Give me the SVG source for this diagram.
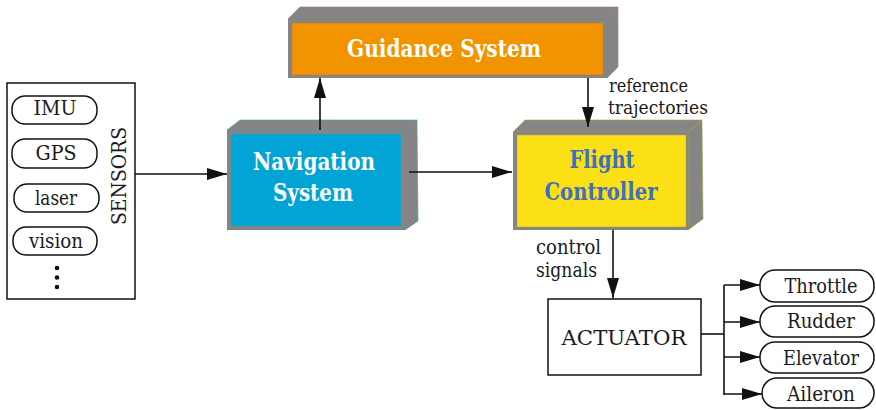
<svg xmlns="http://www.w3.org/2000/svg" width="876" height="410" viewBox="0 0 876 410">
<defs>
<marker id="ah" markerUnits="userSpaceOnUse" markerWidth="20" markerHeight="12" refX="20" refY="6" orient="auto">
<path d="M0,0 L20,6 L0,12 z" fill="#111"/>
</marker>
<style>
.t{font-family:"DejaVu Serif","Liberation Serif",serif;font-size:20px;fill:#1a1a1a}
.b{font-family:"DejaVu Serif","Liberation Serif",serif;font-size:24px;font-weight:bold}
.pill{fill:#fff;stroke:#111;stroke-width:1.5}
.box{fill:#fff;stroke:#111;stroke-width:1.5}
.grey{fill:#858585}
.ln{fill:none;stroke:#111;stroke-width:1.6}
.arr{fill:none;stroke:#111;stroke-width:1.6;marker-end:url(#ah)}
</style>
</defs>
<rect width="876" height="410" fill="#fff"/>

<g id="sensors">
<rect class="box" x="7" y="83" width="128" height="216"/>
<rect class="pill" x="12" y="96" width="85" height="28" rx="13"/>
<text class="t" x="55" y="115" text-anchor="middle" textLength="43" lengthAdjust="spacingAndGlyphs">IMU</text>
<rect class="pill" x="12" y="139" width="85" height="29" rx="13"/>
<text class="t" x="56" y="160" text-anchor="middle" textLength="41" lengthAdjust="spacingAndGlyphs">GPS</text>
<rect class="pill" x="14" y="184" width="85" height="28" rx="13"/>
<text class="t" x="56" y="205" text-anchor="middle" textLength="42" lengthAdjust="spacingAndGlyphs">laser</text>
<rect class="pill" x="13" y="227" width="84" height="28" rx="13"/>
<text class="t" x="56" y="248" text-anchor="middle" textLength="54" lengthAdjust="spacingAndGlyphs">vision</text>
<circle cx="57" cy="268" r="2.3" fill="#111"/>
<circle cx="57" cy="277.5" r="2.3" fill="#111"/>
<circle cx="57" cy="287" r="2.3" fill="#111"/>
<text class="t" transform="translate(126,176) rotate(-90)" text-anchor="middle" textLength="98" lengthAdjust="spacingAndGlyphs">SENSORS</text>
</g>

<g id="guidance">
<polygon class="grey" points="288,19 300,7 618,7 607,19" stroke="#b07070" stroke-width="0.6"/>
<polygon class="grey" points="607,19 618,7 618,67 607,78" stroke="#b07070" stroke-width="0.6"/>
<rect class="grey" x="288" y="19" width="319" height="59"/>
<rect x="292" y="23" width="311" height="52" fill="#f29400" stroke="#c07040" stroke-width="0.5"/>
<text class="b" x="444" y="57" text-anchor="middle" fill="#fff" textLength="194" lengthAdjust="spacingAndGlyphs">Guidance System</text>
</g>

<g id="navigation">
<polygon class="grey" points="227,130 240,120 417,120 405,130" stroke="#40a0a8" stroke-width="0.6"/>
<polygon class="grey" points="405,130 417,120 418,221 405,230" stroke="#40a0a8" stroke-width="0.6"/>
<rect class="grey" x="227" y="130" width="178" height="100"/>
<rect x="231" y="134" width="170" height="92" fill="#02a4d6" stroke="#40a0a8" stroke-width="0.5"/>
<text class="b" x="314" y="170" text-anchor="middle" fill="#fff" textLength="122" lengthAdjust="spacingAndGlyphs">Navigation</text>
<text class="b" x="313" y="201" text-anchor="middle" fill="#fff" textLength="80" lengthAdjust="spacingAndGlyphs">System</text>
</g>

<g id="flight">
<polygon class="grey" points="513,132 525,120 702,120 688,132" stroke="#a8a040" stroke-width="0.6"/>
<polygon class="grey" points="688,132 702,120 703,219 688,230" stroke="#a8a040" stroke-width="0.6"/>
<rect class="grey" x="513" y="132" width="175" height="98"/>
<rect x="517" y="135" width="169" height="92" fill="#fce016" stroke="#a8a040" stroke-width="0.5"/>
<text class="b" x="602" y="168" text-anchor="middle" fill="#3f6fbf" textLength="65" lengthAdjust="spacingAndGlyphs">Flight</text>
<text class="b" x="601" y="200" text-anchor="middle" fill="#3f6fbf" textLength="113" lengthAdjust="spacingAndGlyphs">Controller</text>
</g>

<g id="actuator">
<rect class="box" x="548" y="299" width="153" height="76"/>
<text class="t" x="624" y="345" text-anchor="middle" textLength="125" lengthAdjust="spacingAndGlyphs">ACTUATOR</text>
</g>

<g id="throttle">
<rect class="pill" x="760" y="270" width="114" height="32" rx="15"/>
<text class="t" x="821" y="293" text-anchor="middle" textLength="73" lengthAdjust="spacingAndGlyphs">Throttle</text>
</g>
<g id="rudder">
<rect class="pill" x="760" y="306" width="114" height="31" rx="15"/>
<text class="t" x="821" y="328" text-anchor="middle" textLength="68" lengthAdjust="spacingAndGlyphs">Rudder</text>
</g>
<g id="elevator">
<rect class="pill" x="760" y="342" width="114" height="31" rx="15"/>
<text class="t" x="821" y="365" text-anchor="middle" textLength="76" lengthAdjust="spacingAndGlyphs">Elevator</text>
</g>
<g id="aileron">
<rect class="pill" x="762" y="378" width="112" height="30" rx="15"/>
<text class="t" x="821" y="401" text-anchor="middle" textLength="68" lengthAdjust="spacingAndGlyphs">Aileron</text>
</g>

<g id="connectors">
<line class="arr" x1="135" y1="174" x2="227" y2="174"/>
<line class="arr" x1="409" y1="172" x2="512" y2="172"/>
<line class="arr" x1="320" y1="130" x2="320" y2="78"/>
<line class="arr" x1="588" y1="78" x2="588" y2="127"/>
<line class="arr" x1="613" y1="230" x2="613" y2="298"/>
<polyline class="ln" points="701,334 724,334"/>
<line class="ln" x1="724" y1="285" x2="724" y2="395"/>
<line class="arr" x1="724" y1="285" x2="760" y2="285"/>
<line class="arr" x1="724" y1="322" x2="760" y2="322"/>
<line class="arr" x1="724" y1="357" x2="760" y2="357"/>
<line class="arr" x1="724" y1="394" x2="762" y2="394"/>
<text class="t" x="609" y="92" style="font-size:19px" textLength="79" lengthAdjust="spacingAndGlyphs">reference</text>
<text class="t" x="608" y="114" style="font-size:19px" textLength="100" lengthAdjust="spacingAndGlyphs">trajectories</text>
<text class="t" x="536" y="254" textLength="65" lengthAdjust="spacingAndGlyphs">control</text>
<text class="t" x="536" y="277" textLength="61" lengthAdjust="spacingAndGlyphs">signals</text>
</g>
</svg>
